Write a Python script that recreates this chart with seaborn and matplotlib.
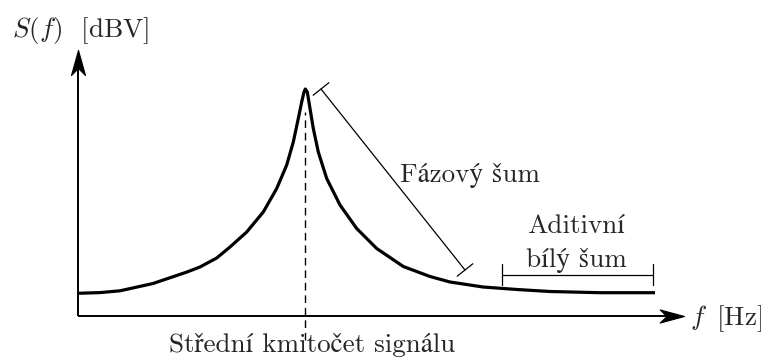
import numpy as np
import matplotlib
matplotlib.use("Agg")
import matplotlib.pyplot as plt
from matplotlib.path import Path
import seaborn as sns

# Spectrum of a real oscillator: carrier peak with phase-noise skirts
# sitting on an additive white-noise floor (schematic, arbitrary units).
freq = [0, 22, 42, 75, 109, 122, 138.7, 152, 168.7, 185.3, 198.7, 208.7,
        215.3, 220.3, 223.7, 226, 227.3, 229.3, 232, 235.3, 240.3, 248.7,
        262, 278.7, 298.7, 325.3, 352, 372, 405, 439, 472, 522, 577]
level = [22.7, 23.4, 25.2, 32.5, 44, 49, 58, 69, 84, 104, 127.5, 151, 174,
         197.5, 214, 224, 227, 224, 207.5, 187.5, 164, 137.5, 111, 87.5, 67.5,
         49.5, 39.5, 34, 29, 26.5, 24.5, 23.3, 23.3]

carrier_freq = 227.3
axis_x_end = 606
axis_y_end = 266

# annotated spans
phase_span_start = (243, 227)
phase_span_end = (387, 46)
white_span = (424, 575)
white_level = 41.5

y_label = r"$S(f)$  [dBV]"
x_label = r"$f\,$ [Hz]"
carrier_label = "Střední kmitočet signálu"
phase_label = "Fázový šum"
white_label_1 = "Aditivní"
white_label_2 = "bílý šum"

sns.set_theme(style="white")
plt.rcParams["font.family"] = ["cmr10", "STIXGeneral"]
plt.rcParams["mathtext.fontset"] = "cm"
plt.rcParams["axes.unicode_minus"] = False

fig = plt.figure(figsize=(7.61, 3.60), dpi=100)
ax = fig.add_axes([0, 0, 1, 1])
ax.set_xlim(-78, 683)
ax.set_ylim(-44, 316)
ax.axis("off")

# coordinate axes with stealth arrow tips
stealth_up = Path([(0, 0), (-0.28, -1), (0, -0.72), (0.28, -1), (0, 0)],
                  [Path.MOVETO, Path.LINETO, Path.LINETO, Path.LINETO, Path.CLOSEPOLY])
stealth_right = Path([(0, 0), (-1, 0.27), (-0.72, 0), (-1, -0.27), (0, 0)],
                     [Path.MOVETO, Path.LINETO, Path.LINETO, Path.LINETO, Path.CLOSEPOLY])
ax.plot([0, 0], [0, axis_y_end - 10], color="black", lw=1.4, solid_capstyle="butt")
ax.plot([0, axis_x_end - 10], [0, 0], color="black", lw=1.4, solid_capstyle="butt")
ax.plot([0], [axis_y_end], marker=stealth_up, ms=36, color="black", mew=0.8)
ax.plot([axis_x_end], [0], marker=stealth_right, ms=35, color="black", mew=0.8)

# spectrum curve
sns.lineplot(x=freq, y=level, ax=ax, color="black", lw=2.3, sort=False,
             estimator=None)
ax.lines[-1].set_solid_joinstyle("round")
ax.lines[-1].set_solid_capstyle("butt")

# carrier marker line
peak = level[freq.index(carrier_freq)]
ax.plot([carrier_freq, carrier_freq], [-24, peak - 23],
        color="black", lw=1.0, dashes=(5.5, 3.5))

# phase-noise span with perpendicular end caps
p0 = np.array(phase_span_start, float)
p1 = np.array(phase_span_end, float)
d = (p1 - p0) / np.linalg.norm(p1 - p0)
n = np.array([-d[1], d[0]]) * 10
ax.plot([p0[0], p1[0]], [p0[1], p1[1]], color="black", lw=0.9)
for p in (p0, p1):
    ax.plot([p[0] - n[0], p[0] + n[0]], [p[1] - n[1], p[1] + n[1]],
            color="black", lw=0.9)

# white-noise span
ax.plot(list(white_span), [white_level, white_level], color="black", lw=0.9)
for xv in white_span:
    ax.plot([xv, xv], [white_level - 10.5, white_level + 10.5], color="black", lw=0.9)

fs = 19.5
ax.text(-66, 279.5, y_label, fontsize=fs, ha="left", va="baseline")
ax.text(612, -9, x_label, fontsize=fs, ha="left", va="baseline")
ax.text(234, -36, carrier_label, fontsize=fs, ha="center", va="baseline")
ax.text(392, 134, phase_label, fontsize=fs, ha="center", va="baseline")
ax.text(498, 83, white_label_1, fontsize=fs, ha="center", va="baseline")
ax.text(498, 49.3, white_label_2, fontsize=fs, ha="center", va="baseline")

fig.savefig("out.png", dpi=100)
